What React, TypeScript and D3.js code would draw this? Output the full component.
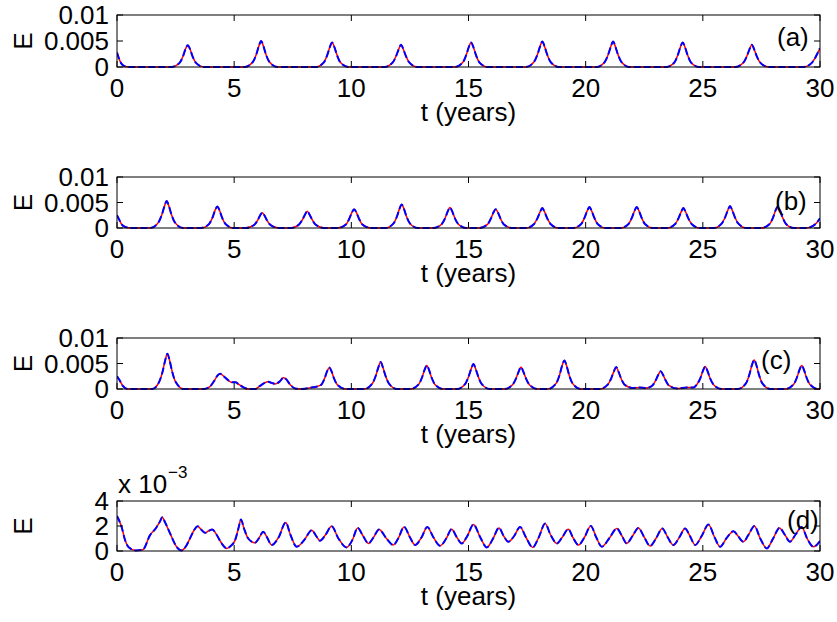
import React from "react";
import * as d3 from "d3";

type Pt = [number, number];

// ---------- DATA ----------
const T_TICKS = [0, 5, 10, 15, 20, 25, 30];
const Y_TICKS_ABC = [0, 0.005, 0.01];
const Y_LABELS_ABC = ["0", "0.005", "0.01"];
const Y_TICKS_D = [0, 2, 4];
const Y_LABELS_D = ["0", "2", "4"];
const PANEL_LABELS = ["(a)", "(b)", "(c)", "(d)"];

const seriesA: Pt[] = [
  [0, 0.0028], [0.08, 0.0017], [0.18, 0.0007], [0.3, 0.0002], [0.5, 0],
  [2.32, 0], [2.67, 0.0008], [2.82, 0.0021], [2.92, 0.0034], [3.02, 0.0042], [3.12, 0.0034], [3.22, 0.0021], [3.37, 0.0008], [3.72, 0],
  [5.45, 0], [5.8, 0.001], [5.95, 0.0025], [6.05, 0.004], [6.15, 0.005], [6.25, 0.004], [6.35, 0.0025], [6.5, 0.001], [6.85, 0],
  [8.48, 0], [8.83, 0.0009], [8.98, 0.0024], [9.08, 0.0038], [9.18, 0.0047], [9.28, 0.0038], [9.38, 0.0024], [9.53, 0.0009], [9.88, 0],
  [11.42, 0], [11.77, 0.0009], [11.92, 0.0022], [12.02, 0.0034], [12.12, 0.0043], [12.22, 0.0034], [12.32, 0.0022], [12.47, 0.0009], [12.82, 0],
  [14.41, 0], [14.76, 0.0009], [14.91, 0.0024], [15.01, 0.0038], [15.11, 0.0047], [15.21, 0.0038], [15.31, 0.0024], [15.46, 0.0009], [15.81, 0],
  [17.45, 0], [17.8, 0.001], [17.95, 0.0025], [18.05, 0.0039], [18.15, 0.0049], [18.25, 0.0039], [18.35, 0.0025], [18.5, 0.001], [18.85, 0],
  [20.47, 0], [20.82, 0.001], [20.97, 0.0025], [21.07, 0.0039], [21.17, 0.0049], [21.27, 0.0039], [21.37, 0.0025], [21.52, 0.001], [21.87, 0],
  [23.44, 0], [23.79, 0.0009], [23.94, 0.0024], [24.04, 0.0038], [24.14, 0.0047], [24.24, 0.0038], [24.34, 0.0024], [24.49, 0.0009], [24.84, 0],
  [26.39, 0], [26.74, 0.0009], [26.89, 0.0022], [26.99, 0.0034], [27.09, 0.0043], [27.19, 0.0034], [27.29, 0.0022], [27.44, 0.0009], [27.79, 0],
  [29.3, 0], [29.65, 0.0008], [29.8, 0.0018], [29.9, 0.0027], [30, 0.0036],
];

const seriesB: Pt[] = [
  [0, 0.0025], [0.1, 0.0016], [0.2, 0.0007], [0.35, 0.0002], [0.6, 0],
  [1.42, 0], [1.77, 0.0011], [1.92, 0.0027], [2.02, 0.0042], [2.12, 0.0053], [2.22, 0.0042], [2.32, 0.0027], [2.47, 0.0011], [2.82, 0],
  [3.58, 0], [3.93, 0.0008], [4.08, 0.0021], [4.18, 0.0034], [4.28, 0.0042], [4.38, 0.0034], [4.48, 0.0021], [4.63, 0.0008], [4.98, 0],
  [5.5, 0], [5.85, 0.0006], [6.0, 0.0015], [6.1, 0.0024], [6.2, 0.003], [6.3, 0.0024], [6.4, 0.0015], [6.55, 0.0006], [6.9, 0],
  [7.42, 0], [7.77, 0.0007], [7.92, 0.0017], [8.02, 0.0026], [8.12, 0.0033], [8.22, 0.0026], [8.32, 0.0017], [8.47, 0.0007], [8.82, 0],
  [9.42, 0], [9.77, 0.0007], [9.92, 0.0019], [10.02, 0.003], [10.12, 0.0037], [10.22, 0.003], [10.32, 0.0019], [10.47, 0.0007], [10.82, 0],
  [11.45, 0], [11.8, 0.0009], [11.95, 0.0023], [12.05, 0.0037], [12.15, 0.0046], [12.25, 0.0037], [12.35, 0.0023], [12.5, 0.0009], [12.85, 0],
  [13.51, 0], [13.86, 0.0008], [14.01, 0.002], [14.11, 0.0032], [14.21, 0.004], [14.31, 0.0032], [14.41, 0.002], [14.56, 0.0008], [14.91, 0],
  [15.46, 0], [15.81, 0.0007], [15.96, 0.0019], [16.06, 0.003], [16.16, 0.0037], [16.26, 0.003], [16.36, 0.0019], [16.51, 0.0007], [16.86, 0],
  [17.45, 0], [17.8, 0.0008], [17.95, 0.002], [18.05, 0.0031], [18.15, 0.0039], [18.25, 0.0031], [18.35, 0.002], [18.5, 0.0008], [18.85, 0],
  [19.46, 0], [19.81, 0.0008], [19.96, 0.0021], [20.06, 0.0033], [20.16, 0.0041], [20.26, 0.0033], [20.36, 0.0021], [20.51, 0.0008], [20.86, 0],
  [21.48, 0], [21.83, 0.0008], [21.98, 0.0021], [22.08, 0.0033], [22.18, 0.0041], [22.28, 0.0033], [22.38, 0.0021], [22.53, 0.0008], [22.88, 0],
  [23.47, 0], [23.82, 0.0008], [23.97, 0.002], [24.07, 0.0031], [24.17, 0.0039], [24.27, 0.0031], [24.37, 0.002], [24.52, 0.0008], [24.87, 0],
  [25.46, 0], [25.81, 0.0009], [25.96, 0.0022], [26.06, 0.0034], [26.16, 0.0043], [26.26, 0.0034], [26.36, 0.0022], [26.51, 0.0009], [26.86, 0],
  [27.5, 0], [27.85, 0.0008], [28.0, 0.0021], [28.1, 0.0034], [28.2, 0.0042], [28.3, 0.0034], [28.4, 0.0021], [28.55, 0.0008], [28.9, 0],
  [29.4, 0], [29.7, 0.0004], [29.85, 0.001], [30, 0.0019],
];

const seriesC: Pt[] = [
  [0, 0.0025], [0.1, 0.0018], [0.25, 0.0006], [0.45, 0],
  [1.5, 0], [1.8, 0.0014], [1.95, 0.0035], [2.05, 0.0055], [2.15, 0.0069], [2.25, 0.0055], [2.35, 0.0035], [2.5, 0.0014], [2.85, 0],
  [3.7, 0], [3.95, 0.0004], [4.15, 0.0016], [4.3, 0.0027], [4.4, 0.003], [4.55, 0.0025], [4.75, 0.0017], [4.9, 0.0013], [5.05, 0.0013], [5.2, 0.0009], [5.4, 0.0003], [5.6, 0],
  [5.9, 0], [6.1, 0.0006], [6.3, 0.0012], [6.45, 0.0014], [6.6, 0.0012], [6.75, 0.001], [6.95, 0.0015], [7.1, 0.0022], [7.2, 0.002], [7.4, 0.0008], [7.6, 0.0001], [7.9, 0],
  [8.3, 0.0003], [8.45, 0.0004], [8.71, 0.0008], [8.86, 0.0021], [8.96, 0.0034], [9.06, 0.0042], [9.16, 0.0034], [9.26, 0.0021], [9.41, 0.0008], [9.76, 0],
  [10.55, 0], [10.9, 0.0011], [11.05, 0.0027], [11.15, 0.0042], [11.25, 0.0053], [11.35, 0.0042], [11.45, 0.0027], [11.6, 0.0011], [11.95, 0],
  [12.52, 0], [12.87, 0.0009], [13.02, 0.0023], [13.12, 0.0037], [13.22, 0.0046], [13.32, 0.0037], [13.42, 0.0023], [13.57, 0.0009], [13.92, 0],
  [14.51, 0], [14.86, 0.001], [15.01, 0.0025], [15.11, 0.0039], [15.21, 0.0049], [15.31, 0.0039], [15.41, 0.0025], [15.56, 0.001], [15.91, 0],
  [16.54, 0], [16.89, 0.0009], [17.04, 0.0022], [17.14, 0.0034], [17.24, 0.0043], [17.34, 0.0034], [17.44, 0.0022], [17.59, 0.0009], [17.94, 0],
  [18.39, 0], [18.74, 0.0011], [18.89, 0.0028], [18.99, 0.0045], [19.09, 0.0056], [19.19, 0.0045], [19.29, 0.0028], [19.44, 0.0011], [19.79, 0],
  [20.6, 0], [20.95, 0.0009], [21.1, 0.0022], [21.2, 0.0034], [21.3, 0.0043], [21.4, 0.0034], [21.5, 0.0022], [21.65, 0.0009], [22.0, 0.0002], [22.3, 0.0003], [22.6, 0.0002],
  [22.85, 0.0007], [23.0, 0.0018], [23.1, 0.0028], [23.2, 0.0035], [23.3, 0.0028], [23.4, 0.0018], [23.55, 0.0007], [23.9, 0.0001], [24.3, 0.0003], [24.6, 0.0003],
  [24.75, 0.0009], [24.9, 0.0022], [25.0, 0.0035], [25.1, 0.0044], [25.2, 0.0035], [25.3, 0.0022], [25.45, 0.0009], [25.8, 0],
  [26.49, 0], [26.84, 0.0011], [26.99, 0.0029], [27.09, 0.0046], [27.19, 0.0057], [27.29, 0.0046], [27.39, 0.0029], [27.54, 0.0011], [27.89, 0],
  [28.52, 0], [28.87, 0.0009], [29.02, 0.0023], [29.12, 0.0037], [29.22, 0.0046], [29.32, 0.0037], [29.42, 0.0023], [29.57, 0.0009], [29.92, 0], [30, 0],
];

// panel (d) values in units of 1e-3
const seriesD: Pt[] = [
  [0, 2.8], [0.1, 2.4], [0.2, 1.9], [0.34, 0.9], [0.5, 0.3], [0.8, 0.05], [1.1, 0.1], [1.41, 1.27], [1.65, 1.8], [1.83, 2.35], [1.93, 2.7], [2.05, 2.3], [2.26, 1.43], [2.55, 0.32], [2.76, 0.05],
  [2.95, 0.4], [3.12, 1.03], [3.3, 1.7], [3.44, 1.99], [3.6, 1.7], [3.76, 1.46], [3.9, 1.6], [4.07, 1.72], [4.25, 1.3], [4.47, 0.6], [4.68, 0.21], [4.85, 0.4], [5.04, 0.87], [5.18, 1.8], [5.29, 2.52],
  [5.42, 1.8], [5.6, 1.0], [5.89, 0.66], [6.05, 1.0], [6.24, 1.54], [6.4, 1.1], [6.6, 0.48], [6.9, 1.1], [7.2, 2.28], [7.4, 1.3], [7.67, 0.34], [8.0, 0.9], [8.31, 1.67], [8.5, 1.2], [8.66, 0.82],
  [8.9, 1.3], [9.16, 1.99], [9.45, 1.0], [9.8, 0.29], [10.05, 0.9], [10.27, 1.85], [10.5, 1.2], [10.73, 0.61], [10.95, 1.1], [11.18, 1.72], [11.5, 1.0], [11.79, 0.48], [12.0, 1.0], [12.25, 1.93],
  [12.5, 1.1], [12.72, 0.48], [13.0, 1.1], [13.24, 1.93], [13.5, 1.1], [13.79, 0.42], [14.05, 1.0], [14.28, 1.75], [14.5, 1.1], [14.71, 0.61], [14.95, 1.2], [15.21, 2.12], [15.5, 1.1], [15.78, 0.29],
  [16.05, 1.0], [16.3, 1.85], [16.5, 1.2], [16.7, 0.74], [16.95, 1.2], [17.2, 1.93], [17.45, 1.1], [17.74, 0.29], [18.0, 1.1], [18.27, 2.2], [18.5, 1.3], [18.77, 0.61], [19.0, 1.1], [19.26, 1.75],
  [19.45, 1.1], [19.69, 0.48], [19.95, 1.1], [20.22, 2.01], [20.45, 1.1], [20.69, 0.34], [21.0, 1.0], [21.33, 1.8], [21.55, 1.2], [21.75, 0.61], [22.0, 1.2], [22.25, 1.85], [22.5, 1.1], [22.75, 0.4],
  [23.0, 1.0], [23.27, 1.8], [23.5, 1.1], [23.74, 0.48], [24.0, 1.1], [24.24, 1.8], [24.45, 1.2], [24.67, 0.48], [24.95, 1.2], [25.24, 2.12], [25.5, 1.1], [25.74, 0.34], [26.0, 1.0], [26.31, 1.59],
  [26.5, 1.2], [26.73, 0.74], [26.95, 1.3], [27.2, 2.01], [27.45, 1.0], [27.73, 0.21], [28.0, 1.0], [28.27, 1.85], [28.5, 1.3], [28.72, 0.74], [28.95, 1.3], [29.22, 1.93], [29.45, 1.0], [29.72, 0.34], [30, 0.8],
];

// ---------- LAYOUT ----------
const W = 837;
const H = 622;
const X0 = 117;
const X1 = 820;
const FONT = "'Liberation Sans', Arial, Helvetica, sans-serif";
const FS = 26;
const TICK = 6;

const panels = [
  { data: seriesA, yMax: 0.01, ticks: Y_TICKS_ABC, tickLabels: Y_LABELS_ABC, label: PANEL_LABELS[0], top: 15, bottom: 67, lx: 777, ly: 37, sci: false },
  { data: seriesB, yMax: 0.01, ticks: Y_TICKS_ABC, tickLabels: Y_LABELS_ABC, label: PANEL_LABELS[1], top: 177, bottom: 228, lx: 775, ly: 201, sci: false },
  { data: seriesC, yMax: 0.01, ticks: Y_TICKS_ABC, tickLabels: Y_LABELS_ABC, label: PANEL_LABELS[2], top: 338, bottom: 389, lx: 761, ly: 360, sci: false },
  { data: seriesD, yMax: 4, ticks: Y_TICKS_D, tickLabels: Y_LABELS_D, label: PANEL_LABELS[3], top: 501, bottom: 551, lx: 787, ly: 520, sci: true },
];

function Panel({ p, idx }: { p: (typeof panels)[number]; idx: number }) {
  const x = d3.scaleLinear().domain([0, 30]).range([X0, X1]);
  const y = d3.scaleLinear().domain([0, p.yMax]).range([p.bottom, p.top]);
  const line = d3
    .line<Pt>()
    .x((d) => x(d[0]))
    .y((d) => y(d[1]))
    .curve(d3.curveMonotoneX);
  const path = line(p.data) || "";
  const clipId = `clip-${idx}`;
  const midY = (p.top + p.bottom) / 2;
  return (
    <g>
      <defs>
        <clipPath id={clipId}>
          <rect x={X0} y={p.top - 1} width={X1 - X0} height={p.bottom - p.top + 2} />
        </clipPath>
      </defs>
      <g clipPath={`url(#${clipId})`}>
        <path d={path} fill="none" stroke="#ff0000" strokeWidth={1.5} />
        <path d={path} fill="none" stroke="#0000ff" strokeWidth={2} strokeDasharray="7,3" />
      </g>
      {/* frame */}
      <rect x={X0} y={p.top} width={X1 - X0} height={p.bottom - p.top} fill="none" stroke="#000" strokeWidth={1} />
      {/* x ticks */}
      {T_TICKS.map((t) => (
        <g key={`xt${t}`}>
          <line x1={x(t)} x2={x(t)} y1={p.bottom} y2={p.bottom - TICK} stroke="#000" />
          <line x1={x(t)} x2={x(t)} y1={p.top} y2={p.top + TICK} stroke="#000" />
          <text x={x(t)} y={p.bottom + 30} textAnchor="middle" fontSize={FS} fontFamily={FONT} fill="#000">
            {t}
          </text>
        </g>
      ))}
      {/* y ticks */}
      {p.ticks.map((v, i) => (
        <g key={`yt${i}`}>
          <line x1={X0} x2={X0 + TICK} y1={y(v)} y2={y(v)} stroke="#000" />
          <line x1={X1} x2={X1 - TICK} y1={y(v)} y2={y(v)} stroke="#000" />
          <text x={109} y={y(v)} dy="0.36em" textAnchor="end" fontSize={FS} fontFamily={FONT} fill="#000">
            {p.tickLabels[i]}
          </text>
        </g>
      ))}
      {/* axis labels */}
      <text x={X0 + (X1 - X0) / 2} y={p.bottom + 54} textAnchor="middle" fontSize={FS} fontFamily={FONT} fill="#000">
        t (years)
      </text>
      <text transform={`translate(32,${midY}) rotate(-90)`} textAnchor="middle" fontSize={FS} fontFamily={FONT} fill="#000">
        E
      </text>
      <text x={p.lx} y={p.ly} dy="0.36em" fontSize={FS} fontFamily={FONT} fill="#000">
        {p.label}
      </text>
      {p.sci && (
        <g>
          <text x={118} y={p.top - 8} fontSize={FS} fontFamily={FONT} fill="#000">
            x 10
          </text>
          <text x={168} y={p.top - 23} fontSize={17} fontFamily={FONT} fill="#000">
            −3
          </text>
        </g>
      )}
    </g>
  );
}

export default function App() {
  return (
    <svg
      width={W}
      height={H}
      viewBox={`0 0 ${W} ${H}`}
      style={{ position: "absolute", left: 0, top: 0, background: "#fff" }}
    >
      <rect x={0} y={0} width={W} height={H} fill="#fff" />
      {panels.map((p, i) => (
        <Panel key={i} p={p} idx={i} />
      ))}
    </svg>
  );
}
